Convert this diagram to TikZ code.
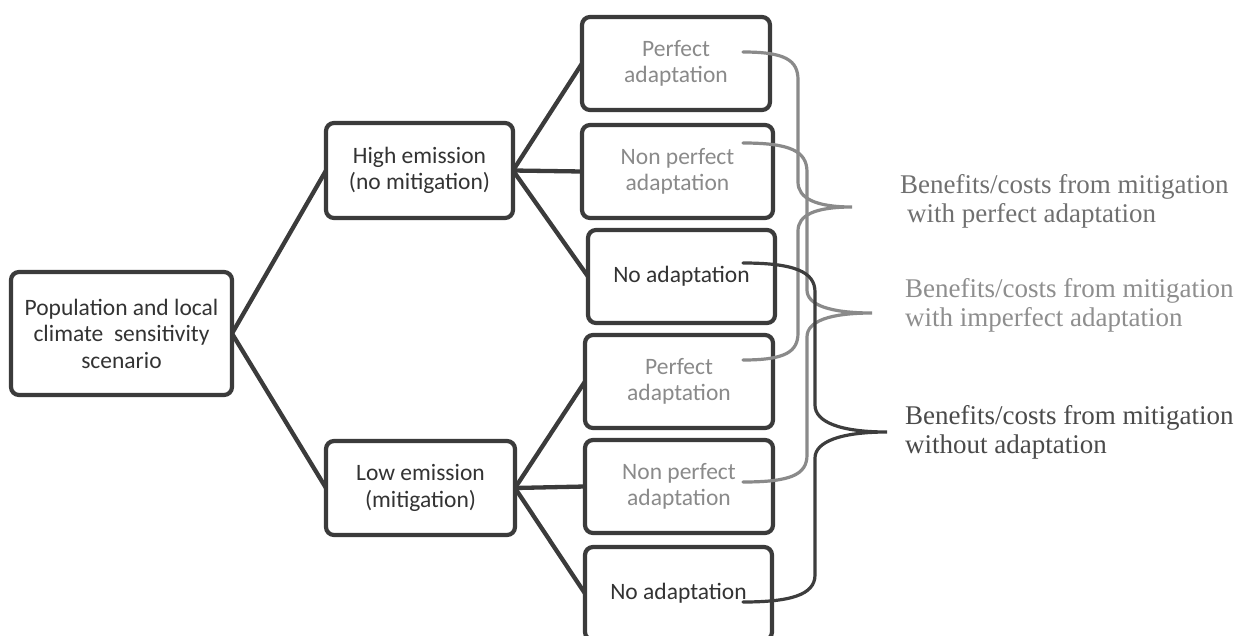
\documentclass[tikz,border=0pt]{standalone}
\usepackage{fontspec}
\setmainfont{Liberation Serif}
\newfontfamily\boxfont{Carlito}
\usetikzlibrary{calc}
\definecolor{edgecol}{HTML}{3B3B3B}
\definecolor{darktext}{HTML}{333333}
\definecolor{graytext}{HTML}{8A8A8A}
\definecolor{graybrace}{HTML}{8A8A8A}
\definecolor{darkbrace}{HTML}{3D3D3D}
\definecolor{labone}{HTML}{707070}
\definecolor{labtwo}{HTML}{8E8E8E}
\definecolor{labthree}{HTML}{4A4A4A}
\tikzset{
  box/.style={draw=edgecol, line width=4.2pt, rounded corners=8pt, inner sep=0pt, outer sep=0pt,
    align=center, font=\boxfont\fontsize{23.5}{26.5}\selectfont, text=darktext,
    minimum width=188pt, minimum height=93pt},
  graybox/.style={box, text=graytext},
  conn/.style={draw=edgecol, line width=4.3pt},
  bracegray/.style={draw=graybrace, line width=3.2pt, line cap=round},
  bracedark/.style={draw=darkbrace, line width=3.2pt, line cap=round},
  lab/.style={anchor=north west, inner sep=0pt, align=left, font=\fontsize{27}{29.5}\selectfont}
}
\begin{document}
\begin{tikzpicture}[x=1pt,y=-1pt]
\useasboundingbox (0,0) rectangle (1235,635);
\clip (0,0) rectangle (1235,635);
\fill[white] (0,0) rectangle (1235,635);

% nodes
\node[box, minimum width=221pt, minimum height=123pt] (root) at (121.5,333.5) {Population and local\\climate\ \ sensitivity\\scenario};
\node[box, minimum width=187pt, minimum height=95pt] (high) at (419.5,170.5) {High emission\\(no mitigation)};
\node[box, minimum width=189pt, minimum height=94pt] (low) at (420.5,488) {Low emission\\(mitigation)};

\node[graybox] (pa1) at (676,63.5) {Perfect\\adaptation};
\node[graybox, minimum width=191pt] (np1) at (677.5,171.5) {Non perfect\\adaptation};
\node[box, minimum width=187pt] (na1) at (681.5,276.5) {No adaptation};
\node[graybox] (pa2) at (679,381.5) {Perfect\\adaptation};
\node[graybox] (np2) at (679,486.5) {Non perfect\\adaptation};
\node[box, minimum width=187pt] (na2) at (678.5,593.5) {No adaptation};

% connectors
\draw[conn] (root.east) -- (high.west);
\draw[conn] (root.east) -- (low.west);
\draw[conn] (high.east) -- (pa1.west);
\draw[conn] (high.east) -- (np1.west);
\draw[conn] (high.east) -- (na1.west);
\draw[conn] (low.east) -- (pa2.west);
\draw[conn] (low.east) -- (np2.west);
\draw[conn] (low.east) -- (na2.west);

% brace coordinates
\coordinate (b1a) at (743,52);
\coordinate (b1tip) at (852,207);
\coordinate (b1b) at (743,360);
\coordinate (b2a) at (743,143);
\coordinate (b2tip) at (872,313);
\coordinate (b2b) at (743,482);
\coordinate (b3a) at (743,263);
\coordinate (b3tip) at (887,432);
\coordinate (b3b) at (743,602);

% braces
\draw[bracegray] (b1a) .. controls (785,52) and (798,60) .. (798,80) -- (798,182)
  .. controls (798,198) and (815,207) .. (b1tip)
  .. controls (815,207) and (798,215) .. (798,231) -- (798,333)
  .. controls (798,352) and (785,360) .. (b1b);
\draw[bracegray] (b2a) .. controls (790,143) and (807,151) .. (807,172) -- (807,290)
  .. controls (807,305) and (830,313) .. (b2tip)
  .. controls (830,313) and (807,321) .. (807,337) -- (807,455)
  .. controls (807,475) and (790,482) .. (b2b);
\draw[bracedark] (b3a) .. controls (795,263) and (815,272) .. (815,292) -- (815,405)
  .. controls (815,422) and (840,432) .. (b3tip)
  .. controls (840,432) and (815,442) .. (815,458) -- (815,575)
  .. controls (815,595) and (790,602) .. (b3b);

% labels
\node[lab, text=labone] (l1) at (900,174) {Benefits/costs from mitigation\\\hspace*{7pt}with perfect adaptation};
\node[lab, text=labtwo] (l2) at (905,278) {Benefits/costs from mitigation\\with imperfect adaptation};
\node[lab, text=labthree] (l3) at (905,405) {Benefits/costs from mitigation\\without adaptation};
\end{tikzpicture}
\end{document}
